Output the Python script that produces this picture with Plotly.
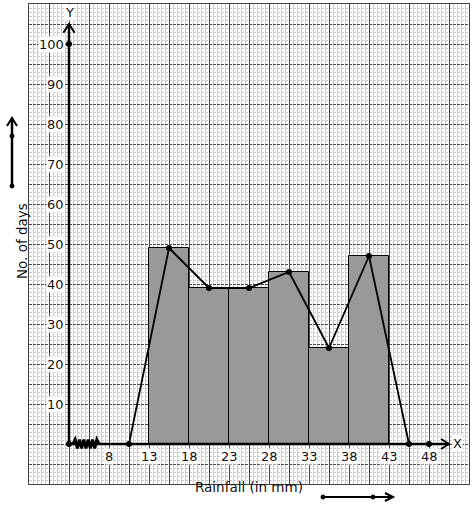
import plotly.graph_objects as go
import numpy as np

# ---------------- data ----------------
class_lower = [13, 18, 23, 28, 33, 38]
class_upper = [18, 23, 28, 33, 38, 43]
num_days = [49, 39, 39, 43, 24, 47]

poly_x = [10.5, 15.5, 20.5, 25.5, 30.5, 35.5, 40.5, 45.5]
poly_y = [0, 49, 39, 39, 43, 24, 47, 0]

x_tick_vals = [8, 13, 18, 23, 28, 33, 38, 43, 48]
y_tick_vals = [10, 20, 30, 40, 50, 60, 70, 80, 90, 100]

axis_dots_x = [3, 48, 3]
axis_dots_y = [0, 0, 100]

# ---------------- layout geometry ----------------
W, H = 474, 510
L, R, T, B = 29, 5, 4, 26
PW, PH = W - L - R, H - T - B
X0 = 3          # data x where the y-axis sits
XR = [-2, 53]
YR = [-10, 110]


def px(xp):
    return (xp - L) / PW


def py(yp):
    return (H - B - yp) / PH


mids = [(a + b) / 2 for a, b in zip(class_lower, class_upper)]
widths = [b - a for a, b in zip(class_lower, class_upper)]

fig = go.Figure()

fig.add_trace(go.Bar(
    x=mids, y=num_days, width=widths, base=0,
    marker=dict(color="#999999", line=dict(color="black", width=1)),
    hoverinfo="skip", showlegend=False,
))

fig.add_trace(go.Scatter(
    x=poly_x, y=poly_y, mode="lines+markers",
    line=dict(color="black", width=1.8),
    marker=dict(color="black", size=6),
    showlegend=False, hoverinfo="skip",
))

shapes = []
# axes lines
shapes.append(dict(type="line", xref="x", yref="y", x0=X0, y0=0, x1=X0, y1=105,
                   line=dict(color="black", width=2.5), layer="above"))
shapes.append(dict(type="line", xref="x", yref="y", x0=X0, y0=0, x1=50.5, y1=0,
                   line=dict(color="black", width=2.5), layer="above"))
# arrow heads
shapes.append(dict(type="path", xref="x", yref="y",
                   path=f"M {X0-0.7},102.8 L {X0},105 L {X0+0.7},102.8",
                   line=dict(color="black", width=2), layer="above"))
shapes.append(dict(type="path", xref="x", yref="y",
                   path="M 49.5,1.25 L 50.5,0 L 49.5,-1.25",
                   line=dict(color="black", width=2), layer="above"))

# zigzag break on the x-axis
zz_start, zz_end, teeth = 3.5, 6.75, 6
zx = np.linspace(zz_start, zz_end, teeth * 2 + 1)
zy = [0] + [1.1 if i % 2 else -1.1 for i in range(1, teeth * 2)] + [0]
zpath = "M " + " L ".join(f"{a:.3f},{b:.3f}" for a, b in zip(zx, zy))
shapes.append(dict(type="path", xref="x", yref="y", path=zpath,
                   line=dict(color="black", width=3), layer="above"))

# left "No. of days" arrow
shapes.append(dict(type="line", xref="paper", yref="paper",
                   x0=px(12), y0=py(186), x1=px(12), y1=py(118),
                   line=dict(color="black", width=2.5), layer="above"))
shapes.append(dict(type="path", xref="paper", yref="paper",
                   path=f"M {px(7)},{py(126)} L {px(12)},{py(118)} L {px(17)},{py(126)}",
                   line=dict(color="black", width=2), layer="above"))
for yy in (136, 186):
    shapes.append(dict(type="circle", xref="paper", yref="paper",
                       x0=px(10), x1=px(14), y0=py(yy - 2), y1=py(yy + 2),
                       fillcolor="black", line=dict(color="black", width=1), layer="above"))

# bottom "Rainfall" arrow
shapes.append(dict(type="line", xref="paper", yref="paper",
                   x0=px(323), y0=py(497), x1=px(393), y1=py(497),
                   line=dict(color="black", width=2), layer="above"))
shapes.append(dict(type="path", xref="paper", yref="paper",
                   path=f"M {px(385)},{py(493)} L {px(393)},{py(497)} L {px(385)},{py(501)}",
                   line=dict(color="black", width=2), layer="above"))
for xx in (323, 373):
    shapes.append(dict(type="circle", xref="paper", yref="paper",
                       x0=px(xx - 2), x1=px(xx + 2), y0=py(495), y1=py(499),
                       fillcolor="black", line=dict(color="black", width=1), layer="above"))

fig.add_trace(go.Scatter(
    x=axis_dots_x, y=axis_dots_y, mode="markers",
    marker=dict(color="black", size=6),
    showlegend=False, hoverinfo="skip", cliponaxis=False,
))

font = dict(family="DejaVu Sans", size=13, color="#111111")
annotations = []
for v in y_tick_vals:
    annotations.append(dict(x=X0 - 0.45, y=v, xref="x", yref="y", text=str(v),
                            showarrow=False, xanchor="right", yanchor="middle",
                            font=font, bgcolor="white", borderpad=0))
for v in x_tick_vals:
    annotations.append(dict(x=v, y=-3.2, xref="x", yref="y", text=str(v),
                            showarrow=False, xanchor="center", yanchor="middle",
                            font=font, bgcolor="white", borderpad=0))
annotations.append(dict(x=X0 + 0.1, y=108, xref="x", yref="y", text="Y",
                        showarrow=False, font=font, bgcolor="white", borderpad=0))
annotations.append(dict(x=51.6, y=0.2, xref="x", yref="y", text="X",
                        showarrow=False, font=font, bgcolor="white", borderpad=0))
annotations.append(dict(x=px(249), y=py(497), xref="paper", yref="paper",
                        text="Rainfall (in mm)", showarrow=False,
                        font=dict(family="DejaVu Sans", size=13.5, color="#111111")))
annotations.append(dict(x=px(12), y=py(241), xref="paper", yref="paper",
                        text="No. of days", showarrow=False, textangle=-90,
                        font=dict(family="DejaVu Sans", size=13.5, color="#111111")))

fig.update_layout(
    width=W, height=H,
    margin=dict(l=L, r=R, t=T, b=B),
    paper_bgcolor="white", plot_bgcolor="white",
    shapes=shapes, annotations=annotations,
    bargap=0,
    xaxis=dict(range=XR, showticklabels=False, ticks="", zeroline=False,
               showgrid=True, gridcolor="#4a4a4a", gridwidth=1,
               tick0=0.5, dtick=2.5,
               minor=dict(showgrid=True, gridcolor="#cccccc", gridwidth=1, dtick=0.5, tick0=0),
               showline=True, mirror=True, linecolor="#444444", linewidth=1,
               fixedrange=True),
    yaxis=dict(range=YR, showticklabels=False, ticks="", zeroline=False,
               showgrid=True, gridcolor="#4a4a4a", gridwidth=1, griddash="3px,1px",
               tick0=0, dtick=5,
               minor=dict(showgrid=True, gridcolor="#cccccc", gridwidth=1, dtick=1, tick0=0),
               showline=True, mirror=True, linecolor="#444444", linewidth=1,
               fixedrange=True),
)

fig.write_html("out.html", post_script="document.body.style.margin='0';",
               config={"displayModeBar": False})
